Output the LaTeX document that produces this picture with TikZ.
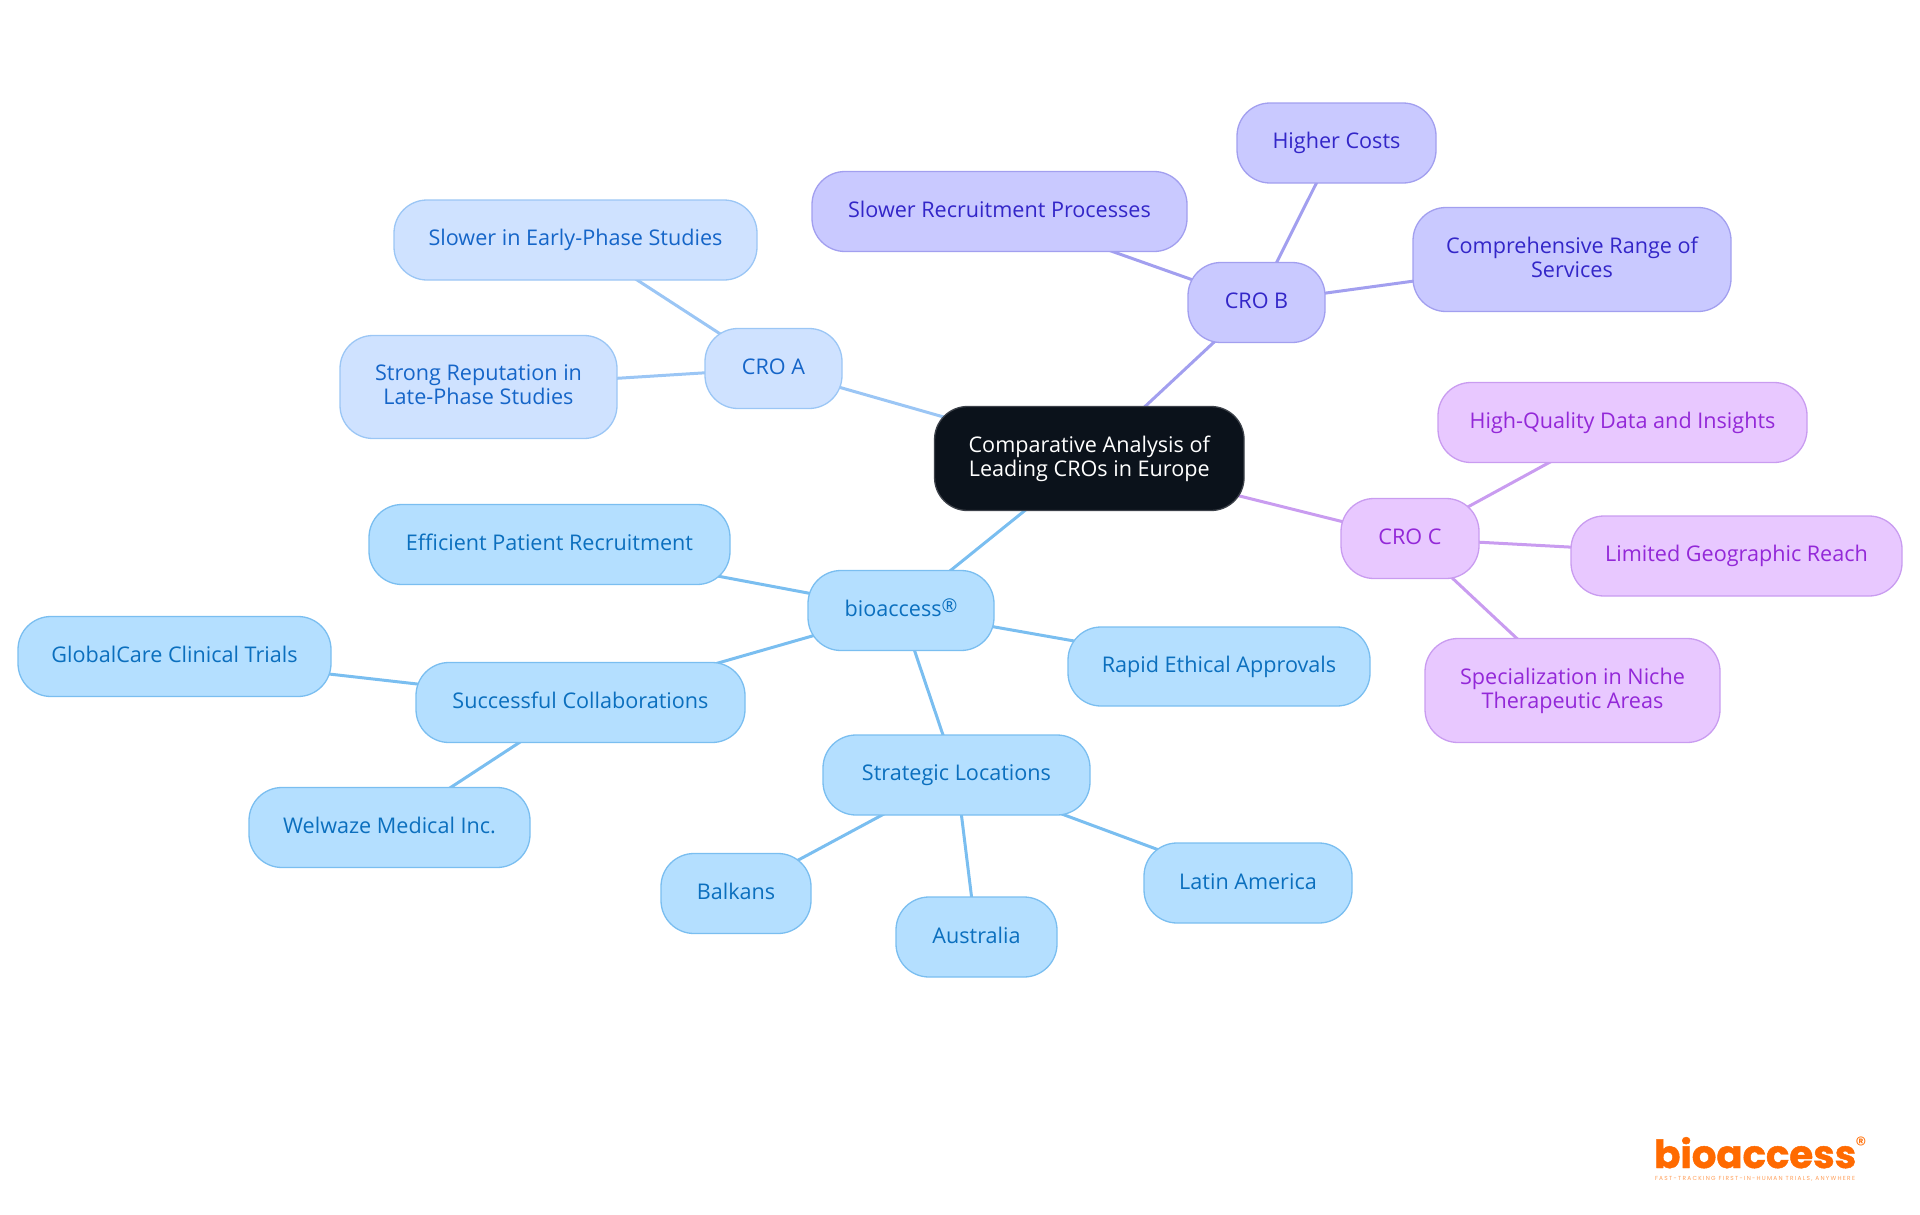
\documentclass[tikz,border=0pt]{standalone}
\usepackage{fontspec}
\setmainfont{Open Sans}
\newfontfamily\logofont{Poppins}[BoldFont=Poppins Bold,BoldFeatures={FakeBold=1.2}]
\newfontfamily\tagfont{Poppins}[LetterSpace=22]
\usetikzlibrary{backgrounds}
\definecolor{rootc}{HTML}{0B121B}
\definecolor{bluef}{HTML}{B4DFFF}\definecolor{blued}{HTML}{7ABEF0}\definecolor{bluet}{HTML}{0B6FBE}
\definecolor{af}{HTML}{CFE2FF}\definecolor{ad}{HTML}{9BC6F5}\definecolor{at}{HTML}{1565C8}
\definecolor{bf}{HTML}{C9C9FF}\definecolor{bd}{HTML}{A29FEF}\definecolor{bt}{HTML}{3326C8}
\definecolor{cf}{HTML}{E8C8FF}\definecolor{cd}{HTML}{C99CF0}\definecolor{ct}{HTML}{9328D8}
\definecolor{logoc}{HTML}{FF6A00}
\tikzset{
 box/.style={draw,line width=1.3pt,rounded corners=33pt,inner sep=0pt,outer sep=0pt,align=center,
   font=\fontsize{21.6}{24}\selectfont,
   execute at begin node={\rule{0pt}{17pt}},
   execute at end node={\rule[-5pt]{0pt}{5pt}}},
 rootbox/.style={box,fill=rootc,draw=rootc!80!white,text=white},
 blueb/.style={box,fill=bluef,draw=blued,text=bluet},
 ab/.style={box,fill=af,draw=ad,text=at},
 bb/.style={box,fill=bf,draw=bd,text=bt},
 cb/.style={box,fill=cf,draw=cd,text=ct},
 bluel/.style={draw=blued,line width=3pt},
 al/.style={draw=ad,line width=3pt},
 bl/.style={draw=bd,line width=3pt},
 cl/.style={draw=cd,line width=3pt},
}
\newcommand{\nd}[6]{\node[#1,minimum width=#5pt,minimum height=#6pt] (#2) at (#3,{#4+0.5})}
\newcommand{\regmark}{\raisebox{4pt}{\fontsize{19}{19}\selectfont ®}}
\begin{document}
\begin{tikzpicture}[x=1pt,y=-1pt]
\useasboundingbox (0,0) rectangle (1920,1215);
\nd{rootbox}{root}{1089.3}{458}{309.5}{104} {Comparative Analysis of\\Leading CROs in Europe};
\nd{ab}{croa}{773.5}{368}{137}{80} {CRO A};
\nd{ab}{aslow}{575.5}{239.5}{363}{80} {Slower in Early-Phase Studies};
\nd{ab}{arep}{478.5}{386.5}{277}{103} {Strong Reputation in\\Late-Phase Studies};
\nd{bb}{crob}{1256.5}{302}{137}{80} {CRO B};
\nd{bb}{bslow}{999.5}{211}{375}{80} {Slower Recruitment Processes};
\nd{bb}{bcost}{1336.5}{142.5}{199}{80} {Higher Costs};
\nd{bb}{bcomp}{1572}{259}{318}{104} {Comprehensive Range of\\Services};
\nd{cb}{croc}{1410}{538}{138}{80} {CRO C};
\nd{cb}{chigh}{1622.5}{422}{369}{80} {High-Quality Data and Insights};
\nd{cb}{clim}{1736.5}{555.5}{331}{80} {Limited Geographic Reach};
\nd{cb}{cspec}{1572.5}{690}{295}{104} {Specialization in Niche\\Therapeutic Areas};
\nd{blueb}{bio}{901}{610}{186}{80} {bioaccess\regmark};
\nd{blueb}{eff}{549.5}{544}{361}{80} {Efficient Patient Recruitment};
\nd{blueb}{rapid}{1219}{666}{302}{79} {Rapid Ethical Approvals};
\nd{blueb}{succ}{580.5}{702}{329}{80} {Successful Collaborations};
\nd{blueb}{glob}{174.5}{656}{313}{80} {GlobalCare Clinical Trials};
\nd{blueb}{wel}{389.5}{827}{281}{80} {Welwaze Medical Inc.};
\nd{blueb}{strat}{956.5}{774.5}{267}{80} {Strategic Locations};
\nd{blueb}{balk}{736}{893}{150}{80} {Balkans};
\nd{blueb}{aus}{976.5}{936.5}{161}{80} {Australia};
\nd{blueb}{lat}{1248}{882.5}{208}{80} {Latin America};
\begin{scope}[on background layer]
\draw[al] (root.center) -- (croa.center);
\draw[al] (croa.center) -- (aslow.center);
\draw[al] (croa.center) -- (arep.center);
\draw[bl] (root.center) -- (crob.center);
\draw[bl] (crob.center) -- (bslow.center);
\draw[bl] (crob.center) -- (bcost.center);
\draw[bl] (crob.center) -- (bcomp.center);
\draw[cl] (root.center) -- (croc.center);
\draw[cl] (croc.center) -- (chigh.center);
\draw[cl] (croc.center) -- (clim.center);
\draw[cl] (croc.center) -- (cspec.center);
\draw[bluel] (root.center) -- (bio.center);
\draw[bluel] (bio.center) -- (eff.center);
\draw[bluel] (bio.center) -- (rapid.center);
\draw[bluel] (bio.center) -- (succ.center);
\draw[bluel] (bio.center) -- (strat.center);
\draw[bluel] (succ.center) -- (glob.center);
\draw[bluel] (succ.center) -- (wel.center);
\draw[bluel] (strat.center) -- (balk.center);
\draw[bluel] (strat.center) -- (aus.center);
\draw[bluel] (strat.center) -- (lat.center);
\end{scope}
\node[anchor=base west,inner sep=0pt,text=logoc] (logo) at (1654,1168) {\resizebox{202pt}{!}{\logofont\bfseries bioaccess}};
\node[anchor=center,inner sep=0pt,text=logoc] (logoreg) at (1861,1145) {\fontsize{22}{22}\selectfont\logofont ®};
\node[anchor=base,inner sep=0pt,text=logoc!65!white] (logotag) at (1755,1180) {\resizebox{200pt}{!}{\tagfont FAST-TRACKING FIRST-IN-HUMAN TRIALS, ANYWHERE}};
\end{tikzpicture}
\end{document}
